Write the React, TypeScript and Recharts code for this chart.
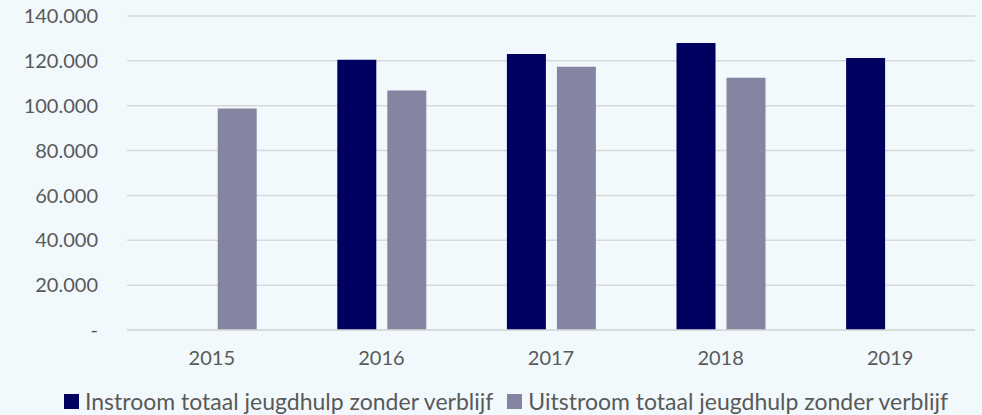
import React from "react"
import { BarChart, Bar, XAxis, YAxis, CartesianGrid, Legend } from "recharts"

const years = ["2015", "2016", "2017", "2018", "2019"]
const instroom = [null, 120500, 123100, 128000, 121300]
const uitstroom = [98800, 106800, 117400, 112500, null]
const yTicks = [0, 20000, 40000, 60000, 80000, 100000, 120000, 140000]

const data = years.map((year, i) => ({
  year,
  instroom: instroom[i],
  uitstroom: uitstroom[i],
}))

const fmt = (v: number) => (v === 0 ? "-" : v.toLocaleString("de-DE"))

const font = "Lato, 'Open Sans', sans-serif"
const textColor = "#595959"

const renderLegend = (props: any) => {
  const { payload } = props
  return (
    <div style={{ display: "flex", alignItems: "center", paddingLeft: 64, fontFamily: font, fontSize: 23, color: textColor, lineHeight: "24px" }}>
      {payload.map((entry: any, i: number) => (
        <div key={`item-${i}`} style={{ display: "flex", alignItems: "center", marginRight: 14 }}>
          <span style={{ display: "inline-block", width: 15, height: 15, background: entry.color, marginRight: 6 }} />
          <span>{entry.value}</span>
        </div>
      ))}
    </div>
  )
}

export default function App() {
  return (
    <div style={{ position: "absolute", left: 0, top: 0, width: 982, height: 415, background: "#F2F9FD", fontFamily: font }}>
      <BarChart
        width={982}
        height={415}
        data={data}
        margin={{ top: 16, right: 7, left: 0, bottom: 0 }}
        barGap={11}
        barCategoryGap="24%"
      >
        <CartesianGrid vertical={false} stroke="#D9D9D9" strokeWidth={1.5} />
        <XAxis
          dataKey="year"
          axisLine={{ stroke: "#D9D9D9", strokeWidth: 1.5 }}
          tickLine={false}
          tick={{ fill: textColor, fontSize: 20, fontFamily: font }}
          tickMargin={15}
          height={61}
        />
        <YAxis
          ticks={yTicks}
          domain={[0, 140000]}
          tickFormatter={fmt}
          axisLine={false}
          tickLine={false}
          tickSize={0}
          tickMargin={29}
          width={127}
          tick={{ fill: textColor, fontSize: 20, fontFamily: font }}
        />
        <Legend
          verticalAlign="bottom"
          align="left"
          wrapperStyle={{ left: 0, width: 982, bottom: 2 }}
          content={renderLegend}
        />
        <Bar dataKey="instroom" name="Instroom totaal jeugdhulp zonder verblijf" fill="#000060" isAnimationActive={false} />
        <Bar dataKey="uitstroom" name="Uitstroom totaal jeugdhulp zonder verblijf" fill="#8585A1" isAnimationActive={false} />
      </BarChart>
    </div>
  )
}
